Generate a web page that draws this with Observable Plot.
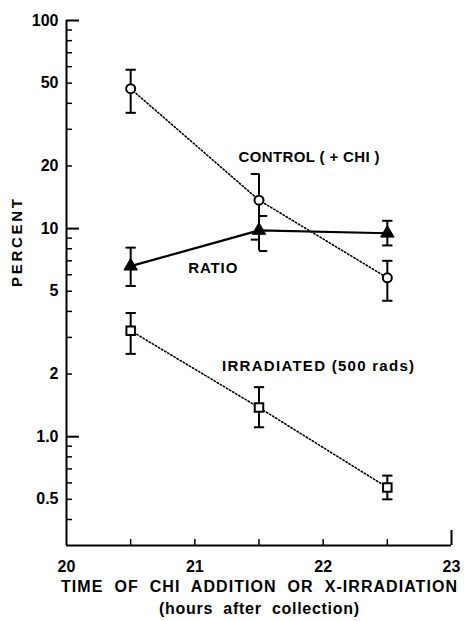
<!DOCTYPE html>
<html>
<head>
<meta charset="utf-8">
<script src="https://cdn.jsdelivr.net/npm/d3@7"></script>
<script src="https://cdn.jsdelivr.net/npm/@observablehq/plot@0.6"></script>
<style>
  html, body { margin: 0; padding: 0; background: #fff; }
  svg { display: block; }
  svg text { white-space: pre; }
</style>
</head>
<body>
<div id="chart"></div>
<script>
// ---- data ----
const hours = [20.5, 21.5, 22.5];
const control = [47, 13.7, 5.8];
const controlLo = [36, 7.8, 4.5];
const controlHi = [58, 18.3, 7.0];
const ratio = [6.6, 9.8, 9.5];
const ratioLo = [5.3, 8.85, 8.3];
const ratioHi = [8.1, 11.5, 10.9];
const irradiated = [3.23, 1.38, 0.57];
const irradiatedLo = [2.5, 1.11, 0.50];
const irradiatedHi = [3.93, 1.73, 0.65];

const yLabelTicks = [100, 50, 20, 10, 5, 2, 1, 0.5];
const yLabelText = ["100", "50", "20", "10", "5", "2", "1.0", "0.5"];
const yMajorTicks = [100, 10, 1];
const yMinorTicks = [90, 80, 70, 60, 50, 40, 30, 20, 9, 8, 7, 6, 5, 4, 3, 2, 0.9, 0.8, 0.7, 0.6, 0.5, 0.4];
const xMinorTicks = [20.5, 21, 21.5, 22, 22.5];
const xEndTick = [23];
const xLabelTicks = [20, 21, 22, 23];

const xTitle1 = "TIME  OF  CHI  ADDITION  OR  X-IRRADIATION";
const xTitle2 = "(hours  after  collection)";
const yTitle = "PERCENT";

const seriesLabels = [
  {x: 21.89, y: 22, text: "CONTROL ( + CHI )"},
  {x: 21.14, y: 6.45, text: "RATIO"},
  {x: 21.96, y: 2.17, text: "IRRADIATED (500 rads)"}
];

// cap side per point: "both", "left", "right"
const controlCapHi = ["both", "left", "both"];
const controlCapLo = ["both", "right", "both"];
const ratioCapHi = ["both", "right", "both"];
const ratioCapLo = ["both", "left", "both"];
const irradiatedCapHi = ["both", "both", "both"];
const irradiatedCapLo = ["both", "both", "both"];

// ---- tables ----
function table(vals, lo, hi, capHi, capLo) {
  return hours.map((h, i) => ({x: h, y: vals[i], lo: lo[i], hi: hi[i], capHi: capHi[i], capLo: capLo[i]}));
}
const cData = table(control, controlLo, controlHi, controlCapHi, controlCapLo);
const rData = table(ratio, ratioLo, ratioHi, ratioCapHi, ratioCapLo);
const iData = table(irradiated, irradiatedLo, irradiatedHi, irradiatedCapHi, irradiatedCapLo);
const yLabels = yLabelTicks.map((v, i) => ({y: v, text: yLabelText[i]}));

// custom cap symbols
const capBoth = {draw(ctx, size) { const w = Math.sqrt(size); ctx.moveTo(-w, 0); ctx.lineTo(w, 0); }};
const capLeft = {draw(ctx, size) { const w = Math.sqrt(size) * 1.6; ctx.moveTo(-w, 0); ctx.lineTo(0, 0); }};
const capRight = {draw(ctx, size) { const w = Math.sqrt(size) * 1.6; ctx.moveTo(0, 0); ctx.lineTo(w, 0); }};
const capSym = (s) => s === "left" ? capLeft : s === "right" ? capRight : capBoth;

function errorMarks(data) {
  return [
    Plot.ruleX(data, {x: "x", y1: "lo", y2: "hi", stroke: "black", strokeWidth: 2}),
    ...data.map(d => Plot.dot([d], {x: "x", y: "hi", symbol: capSym(d.capHi), r: 2.9, stroke: "black", strokeWidth: 2, fill: "none"})),
    ...data.map(d => Plot.dot([d], {x: "x", y: "lo", symbol: capSym(d.capLo), r: 2.9, stroke: "black", strokeWidth: 2, fill: "none"}))
  ];
}

const font = "'Liberation Sans', Arial, sans-serif";

const chart = Plot.plot({
  width: 464,
  height: 621,
  marginTop: 20,
  marginLeft: 66,
  marginRight: 13,
  marginBottom: 76,
  style: {fontFamily: font, fontSize: "15px", fontWeight: "bold", color: "black", background: "white"},
  x: {domain: [20, 23]},
  y: {type: "log", domain: [0.3, 100]},
  marks: [
    // axes
    Plot.axisY({ticks: yMinorTicks, tickSize: -6, tickFormat: () => "", strokeWidth: 1.5, label: null}),
    Plot.axisY({ticks: yMajorTicks, tickSize: -13, tickFormat: () => "", strokeWidth: 2, label: null}),
    Plot.text(yLabels, {y: "y", text: "text", frameAnchor: "left", dx: -8, textAnchor: "end", fontSize: 16, fontWeight: "bold"}),
    Plot.axisX({ticks: xMinorTicks, tickSize: -6, tickFormat: () => "", strokeWidth: 1.5, label: null}),
    Plot.axisX({ticks: xEndTick, tickSize: -15, tickFormat: () => "", strokeWidth: 2, label: null}),
    Plot.axisX({ticks: xLabelTicks, tickSize: 0, tickPadding: 15, tickFormat: d3.format("d"), label: null, fontSize: 16, fontWeight: "bold"}),
    Plot.ruleX([20], {stroke: "black", strokeWidth: 2}),
    Plot.ruleY([0.3], {stroke: "black", strokeWidth: 2}),
    // axis titles
    Plot.text([yTitle], {frameAnchor: "left", dx: -49, dy: 4, rotate: -90, text: d => d, fontSize: 15, fontWeight: "bold"}),
    Plot.text([xTitle1], {frameAnchor: "bottom", dy: 46, text: d => d, fontSize: 16, fontWeight: "bold"}),
    Plot.text([xTitle2], {frameAnchor: "bottom", dy: 68, text: d => d, fontSize: 16, fontWeight: "bold"}),
    // lines
    Plot.line(cData, {x: "x", y: "y", stroke: "black", strokeWidth: 1.6, strokeDasharray: "1.4 2.2"}),
    Plot.line(iData, {x: "x", y: "y", stroke: "black", strokeWidth: 1.6, strokeDasharray: "1.4 2.2"}),
    Plot.line(rData, {x: "x", y: "y", stroke: "black", strokeWidth: 2.2}),
    // error bars
    ...errorMarks(cData),
    ...errorMarks(rData),
    ...errorMarks(iData),
    // markers
    Plot.dot(cData, {x: "x", y: "y", symbol: "circle", r: 4.5, stroke: "black", strokeWidth: 2, fill: "white"}),
    Plot.dot(iData, {x: "x", y: "y", symbol: "square", r: 4.8, stroke: "black", strokeWidth: 2, fill: "white"}),
    Plot.dot(rData, {x: "x", y: "y", symbol: "triangle", r: 5, stroke: "black", strokeWidth: 1, fill: "black"}),
    // series labels
    Plot.text(seriesLabels, {x: "x", y: "y", text: "text", fontSize: 15, fontWeight: "bold"})
  ]
});

// stretch wide lettering to the reference widths
const textWidths = new Map([
  [xTitle1, 396], [xTitle2, 200], [yTitle, 88],
  ["CONTROL ( + CHI )", 141], ["RATIO", 49], ["IRRADIATED (500 rads)", 192]
]);
d3.select(chart).selectAll("text").each(function () {
  const w = textWidths.get(this.textContent);
  if (w) {
    this.setAttribute("textLength", w);
    this.setAttribute("lengthAdjust", "spacing");
  }
});
document.getElementById("chart").appendChild(chart);
</script>
</body>
</html>
